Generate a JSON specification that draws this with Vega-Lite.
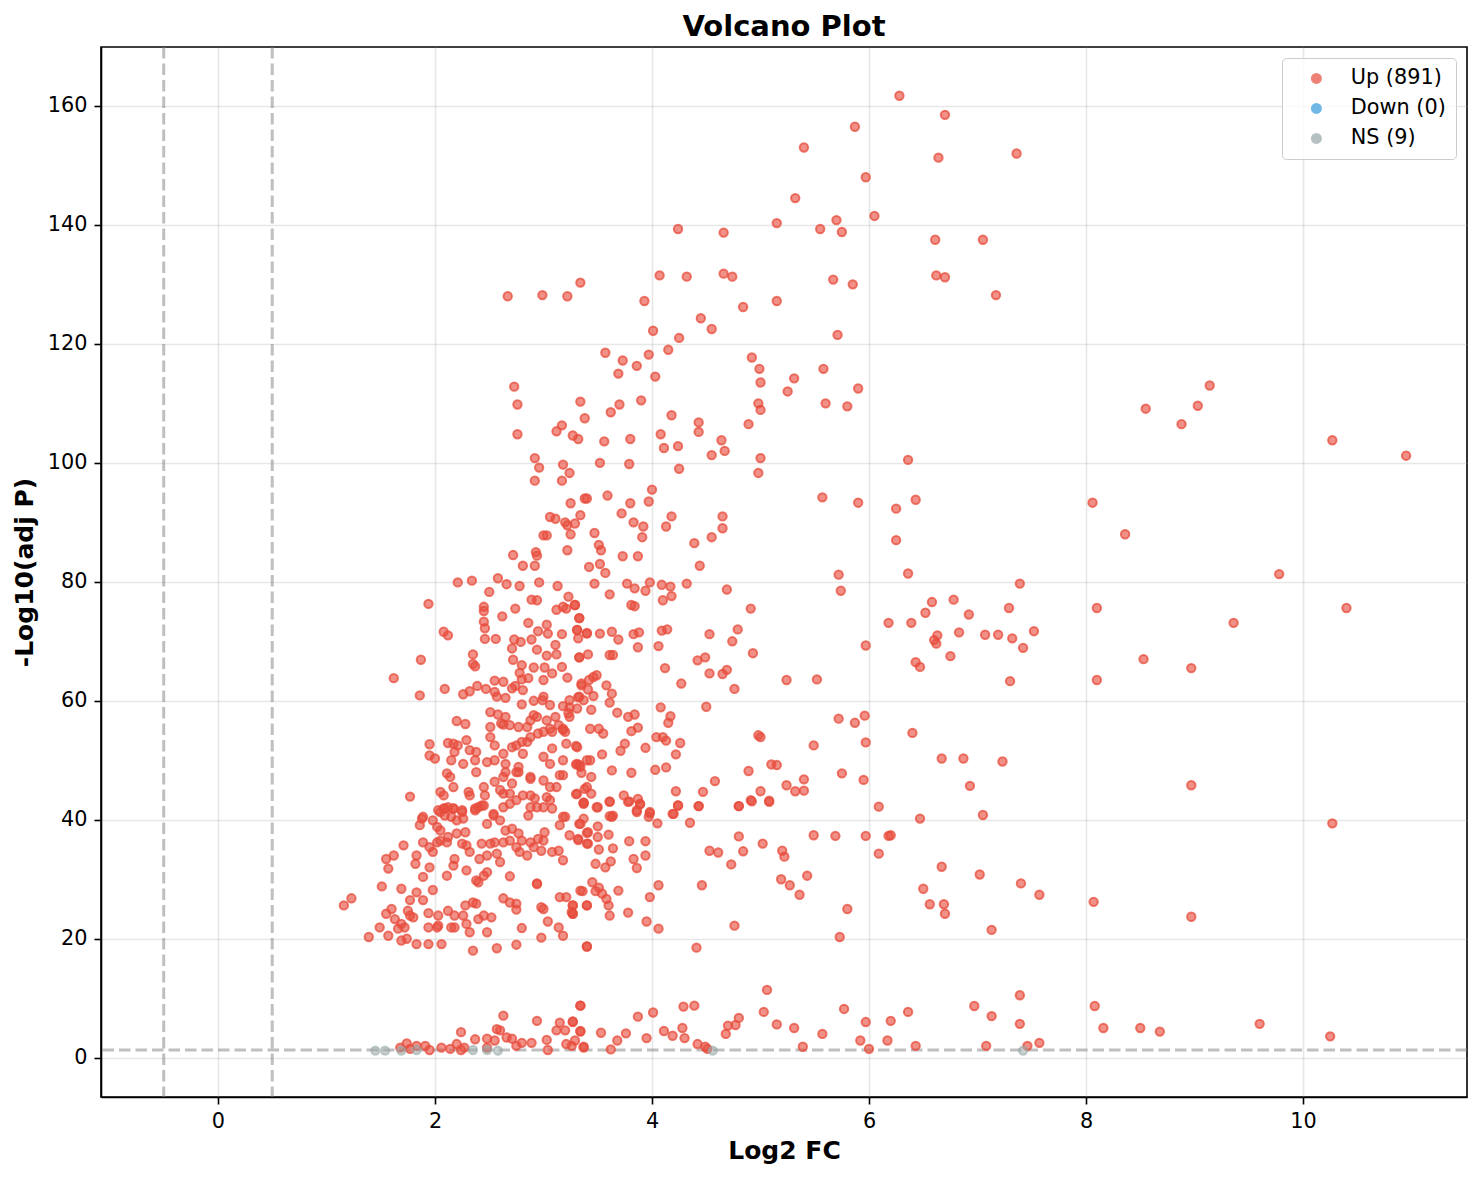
{
  "$schema": "https://vega.github.io/schema/vega-lite/v6.json",
  "autosize": {"type": "none"},
  "width": 1366,
  "height": 1050,
  "padding": {"left": 101, "top": 47, "right": 15, "bottom": 83},
  "background": "white",
  "title": {"text": "Volcano Plot", "fontSize": 29, "fontWeight": "bold", "color": "black", "offset": 4, "anchor": "middle"},
  "config": {
    "font": "DejaVu Sans",
    "view": {"stroke": "black", "strokeWidth": 1.6},
    "axis": {
      "domainColor": "black", "domainWidth": 1.6,
      "tickColor": "black", "tickWidth": 1.6, "tickSize": 7,
      "labelPadding": 7, "labelFontSize": 20.8, "labelColor": "black",
      "titleFontSize": 25, "titleFontWeight": "bold", "titleColor": "black",
      "grid": true, "gridColor": "#b0b0b0", "gridOpacity": 0.3, "gridWidth": 1.6
    },
    "legend": {
      "orient": "top-right", "offset": 11, "padding": 10,
      "fillColor": "rgba(255,255,255,0.8)", "strokeColor": "#cccccc", "cornerRadius": 4,
      "labelFontSize": 20.8, "labelColor": "black", "labelOffset": 24,
      "symbolSize": 120, "symbolType": "circle", "symbolOpacity": 0.7, "symbolStrokeWidth": 0,
      "symbolOffset": 14, "rowPadding": 8
    }
  },
  "datasets": {
    "thrx": [{"fc": -0.5}, {"fc": 0.5}],
    "thry": [{"p": 1.3}],
    "ns": [
      {"fc":1.45,"p":1.2},{"fc":1.54,"p":1.2},{"fc":1.69,"p":1.2},{"fc":1.83,"p":1.3},{"fc":2.35,"p":1.3},
      {"fc":2.48,"p":1.3},{"fc":2.58,"p":1.2},{"fc":4.56,"p":1.2},{"fc":7.42,"p":1.2}
    ],
    "up": [
      {"fc":6.28,"p":161.7},{"fc":6.7,"p":158.5},{"fc":5.87,"p":156.5},{"fc":5.4,"p":153},{"fc":7.36,"p":152},
      {"fc":6.64,"p":151.3},{"fc":5.97,"p":148},{"fc":5.32,"p":144.5},{"fc":6.05,"p":141.5},{"fc":5.15,"p":140.3},
      {"fc":5.7,"p":140.8},{"fc":5.55,"p":139.3},{"fc":5.75,"p":138.8},{"fc":4.24,"p":139.3},{"fc":4.66,"p":138.7},
      {"fc":6.61,"p":137.5},{"fc":7.05,"p":137.5},{"fc":4.07,"p":131.5},{"fc":4.32,"p":131.3},{"fc":4.66,"p":131.8},
      {"fc":4.74,"p":131.3},{"fc":5.67,"p":130.8},{"fc":5.85,"p":130},{"fc":6.62,"p":131.5},{"fc":6.7,"p":131.2},
      {"fc":3.34,"p":130.3},{"fc":2.67,"p":128},{"fc":2.99,"p":128.2},{"fc":3.22,"p":128},{"fc":7.17,"p":128.2},
      {"fc":3.93,"p":127.2},{"fc":5.15,"p":127.2},{"fc":4.84,"p":126.2},{"fc":4.45,"p":124.3},{"fc":4.55,"p":122.5},
      {"fc":4.01,"p":122.2},{"fc":5.71,"p":121.5},{"fc":4.25,"p":121},{"fc":4.15,"p":119},{"fc":3.57,"p":118.5},
      {"fc":3.97,"p":118.2},{"fc":4.92,"p":117.7},{"fc":3.73,"p":117.2},{"fc":3.86,"p":116.3},{"fc":5.58,"p":115.8},
      {"fc":4.99,"p":115.8},{"fc":3.69,"p":115},{"fc":4.03,"p":114.5},{"fc":5.31,"p":114.2},{"fc":5.0,"p":113.5},
      {"fc":9.14,"p":113},{"fc":2.73,"p":112.8},{"fc":5.25,"p":112},{"fc":5.9,"p":112.5},{"fc":3.34,"p":110.3},
      {"fc":3.9,"p":110.5},{"fc":3.7,"p":109.8},{"fc":2.76,"p":109.8},{"fc":4.98,"p":110},{"fc":5.6,"p":110},
      {"fc":5.0,"p":108.9},{"fc":5.8,"p":109.5},{"fc":9.03,"p":109.6},{"fc":8.55,"p":109.1},{"fc":3.38,"p":107.5},
      {"fc":3.62,"p":108.5},{"fc":4.18,"p":108},{"fc":8.88,"p":106.5},{"fc":4.89,"p":106.5},{"fc":3.17,"p":106.3},
      {"fc":4.43,"p":106.8},{"fc":3.12,"p":105.3},{"fc":4.43,"p":105.2},{"fc":2.76,"p":104.8},{"fc":3.27,"p":104.6},
      {"fc":3.32,"p":104},{"fc":3.8,"p":104},{"fc":4.08,"p":104.8},{"fc":4.64,"p":103.8},{"fc":10.27,"p":103.8},
      {"fc":3.56,"p":103.6},{"fc":4.11,"p":102.5},{"fc":4.24,"p":102.8},{"fc":4.67,"p":102},{"fc":4.55,"p":101.3},
      {"fc":2.92,"p":100.8},{"fc":3.18,"p":99.7},{"fc":3.79,"p":99.8},{"fc":3.52,"p":100},{"fc":5.0,"p":100.8},
      {"fc":6.36,"p":100.5},{"fc":10.95,"p":101.2},
      {"fc":2.96,"p":99.2},{"fc":4.25,"p":99},{"fc":3.24,"p":98.3},{"fc":4.98,"p":98.3},{"fc":2.92,"p":97},
      {"fc":3.17,"p":97},{"fc":4.0,"p":95.5},{"fc":3.59,"p":94.5},{"fc":5.57,"p":94.2},{"fc":6.43,"p":93.8},
      {"fc":3.38,"p":94},{"fc":3.4,"p":94},{"fc":3.97,"p":93.5},{"fc":3.8,"p":93.2},{"fc":5.9,"p":93.3},
      {"fc":8.06,"p":93.3},{"fc":3.25,"p":93.2},{"fc":6.25,"p":92.3},{"fc":3.34,"p":91.2},{"fc":3.72,"p":91.5},
      {"fc":4.18,"p":91},{"fc":4.65,"p":91},{"fc":3.06,"p":90.9},{"fc":3.11,"p":90.6},{"fc":3.2,"p":90},
      {"fc":3.22,"p":89.5},{"fc":3.29,"p":89.8},{"fc":3.83,"p":90},{"fc":3.92,"p":89.3},{"fc":4.13,"p":89.3},
      {"fc":4.65,"p":89},{"fc":3.91,"p":87.5},{"fc":3.0,"p":87.8},{"fc":3.03,"p":87.8},{"fc":3.25,"p":88},
      {"fc":3.47,"p":88.2},{"fc":4.55,"p":87.5},{"fc":4.39,"p":86.5},{"fc":8.36,"p":88},{"fc":6.25,"p":87},
      {"fc":3.51,"p":86.2},{"fc":3.53,"p":85.3},{"fc":2.93,"p":85},{"fc":2.94,"p":84.4},{"fc":3.22,"p":85.3},
      {"fc":3.73,"p":84.3},{"fc":3.87,"p":84.3},{"fc":2.72,"p":84.5},
      {"fc":5.72,"p":81.2},{"fc":6.36,"p":81.4},{"fc":9.78,"p":81.3},{"fc":7.39,"p":79.7},{"fc":5.74,"p":78.5},
      {"fc":6.58,"p":76.6},{"fc":6.78,"p":77},{"fc":6.52,"p":74.8},{"fc":6.92,"p":74.5},{"fc":7.29,"p":75.6},
      {"fc":8.1,"p":75.6},{"fc":10.4,"p":75.6},{"fc":6.18,"p":73.1},{"fc":6.39,"p":73.1},{"fc":6.63,"p":71},
      {"fc":6.83,"p":71.5},{"fc":7.07,"p":71.1},{"fc":7.19,"p":71.1},{"fc":7.32,"p":70.5},{"fc":7.52,"p":71.7},
      {"fc":9.36,"p":73.1},{"fc":6.6,"p":70.2},{"fc":6.62,"p":69.6},{"fc":7.42,"p":68.9},{"fc":5.97,"p":69.3},
      {"fc":6.43,"p":66.5},{"fc":6.47,"p":65.7},{"fc":6.75,"p":67.5},{"fc":8.53,"p":67},{"fc":8.97,"p":65.5},
      {"fc":7.3,"p":63.3},{"fc":8.1,"p":63.5},{"fc":5.96,"p":57.5},{"fc":5.72,"p":57},{"fc":6.4,"p":54.6},
      {"fc":5.75,"p":47.8},{"fc":5.97,"p":53},{"fc":5.87,"p":56.3},{"fc":5.95,"p":46.7},{"fc":5.69,"p":37.3},
      {"fc":5.97,"p":37.3},{"fc":6.2,"p":37.4},{"fc":6.18,"p":37.3},{"fc":6.09,"p":42.2},{"fc":6.09,"p":34.3},
      {"fc":6.47,"p":40.2},{"fc":6.67,"p":50.3},{"fc":6.87,"p":50.3},{"fc":6.93,"p":45.7},{"fc":7.23,"p":49.8},
      {"fc":7.05,"p":40.8},{"fc":6.67,"p":32.1},{"fc":6.5,"p":28.4},{"fc":6.56,"p":25.8},{"fc":6.69,"p":25.8},
      {"fc":6.7,"p":24.2},{"fc":7.02,"p":30.8},{"fc":7.4,"p":29.3},{"fc":7.57,"p":27.4},{"fc":7.13,"p":21.5},
      {"fc":5.8,"p":25},{"fc":5.73,"p":20.3},{"fc":8.07,"p":26.2},{"fc":8.97,"p":45.8},{"fc":8.97,"p":23.7},
      {"fc":10.27,"p":39.4},{"fc":5.77,"p":8.2},{"fc":5.97,"p":6.0},{"fc":6.36,"p":7.7},{"fc":6.2,"p":6.2},
      {"fc":5.92,"p":2.9},{"fc":6.0,"p":1.5},{"fc":6.17,"p":2.9},{"fc":6.43,"p":2.0},{"fc":6.97,"p":8.7},
      {"fc":7.13,"p":7.0},{"fc":7.39,"p":10.5},{"fc":7.39,"p":5.7},{"fc":7.08,"p":2.0},{"fc":7.46,"p":2.0},
      {"fc":7.57,"p":2.5},{"fc":8.08,"p":8.7},{"fc":8.16,"p":5.0},{"fc":8.5,"p":5.0},{"fc":8.68,"p":4.4},
      {"fc":9.6,"p":5.7},{"fc":10.25,"p":3.6},
      {"fc":2.81,"p":82.7},{"fc":2.92,"p":82.7},{"fc":2.21,"p":79.9},{"fc":2.34,"p":80.2},{"fc":2.58,"p":80.6},
      {"fc":2.66,"p":79.6},{"fc":2.78,"p":79.3},{"fc":2.96,"p":79.9},{"fc":3.13,"p":79.3},{"fc":2.5,"p":78.3},
      {"fc":1.94,"p":76.3},{"fc":2.45,"p":75.8},{"fc":2.45,"p":75.1},{"fc":2.62,"p":74.2},{"fc":2.74,"p":75.5},
      {"fc":2.89,"p":77.0},{"fc":2.94,"p":76.9},{"fc":3.23,"p":77.5},{"fc":3.18,"p":75.8},{"fc":3.21,"p":75.5},
      {"fc":3.29,"p":76.1},{"fc":3.12,"p":75.3},{"fc":3.33,"p":73.9},{"fc":2.45,"p":73.3},{"fc":2.46,"p":72.2},
      {"fc":2.86,"p":73.1},{"fc":3.03,"p":72.8},{"fc":2.95,"p":71.7},{"fc":3.04,"p":71.3},{"fc":3.17,"p":71.2},
      {"fc":3.31,"p":71.9},{"fc":3.4,"p":71.3},{"fc":3.32,"p":70.5},{"fc":2.08,"p":71.6},{"fc":2.12,"p":71.0},
      {"fc":2.46,"p":70.4},{"fc":2.56,"p":70.4},{"fc":2.73,"p":70.3},{"fc":2.79,"p":69.9},{"fc":2.89,"p":70.3},
      {"fc":2.71,"p":68.8},{"fc":2.94,"p":68.6},{"fc":3.11,"p":69.4},{"fc":3.03,"p":67.6},{"fc":3.12,"p":67.8},
      {"fc":3.33,"p":67.3},{"fc":3.17,"p":65.7},{"fc":1.87,"p":66.9},{"fc":2.35,"p":67.8},{"fc":2.35,"p":66.2},
      {"fc":2.37,"p":65.8},{"fc":2.72,"p":66.9},{"fc":2.8,"p":66.0},{"fc":2.91,"p":65.6},{"fc":3.01,"p":65.6},
      {"fc":2.78,"p":64.7},{"fc":2.86,"p":63.8},{"fc":2.8,"p":63.6},{"fc":3.0,"p":63.5},{"fc":3.08,"p":64.6},
      {"fc":3.22,"p":63.9},{"fc":3.35,"p":62.9},{"fc":3.42,"p":63.5},{"fc":1.62,"p":63.8},{"fc":1.86,"p":60.9},
      {"fc":2.09,"p":62.0},{"fc":2.26,"p":61.1},{"fc":2.32,"p":61.6},{"fc":2.39,"p":62.5},{"fc":2.47,"p":62.0},
      {"fc":2.55,"p":63.4},{"fc":2.55,"p":61.5},{"fc":2.63,"p":63.2},{"fc":2.57,"p":60.7},{"fc":2.65,"p":60.5},
      {"fc":2.71,"p":62.1},{"fc":2.74,"p":62.5},{"fc":2.81,"p":61.8},{"fc":2.8,"p":59.4},{"fc":2.91,"p":60.0},
      {"fc":3.0,"p":60.7},{"fc":3.32,"p":60.6},{"fc":3.24,"p":60.1},
      {"fc":2.2,"p":56.6},{"fc":2.28,"p":56.1},{"fc":2.51,"p":58.1},{"fc":2.58,"p":57.7},{"fc":2.65,"p":57.3},
      {"fc":2.51,"p":55.6},{"fc":2.61,"p":56.2},{"fc":2.63,"p":56.0},{"fc":2.69,"p":55.9},{"fc":2.77,"p":55.6},
      {"fc":2.85,"p":55.6},{"fc":2.88,"p":56.7},{"fc":2.91,"p":57.6},{"fc":2.94,"p":57.3},{"fc":2.99,"p":60.1},
      {"fc":3.06,"p":59.3},{"fc":3.18,"p":59.1},{"fc":3.23,"p":57.9},{"fc":3.24,"p":57.3},{"fc":3.31,"p":58.7},
      {"fc":3.37,"p":60.1},{"fc":3.03,"p":56.7},{"fc":3.11,"p":57.3},{"fc":3.06,"p":55.3},{"fc":3.18,"p":55.3},
      {"fc":3.2,"p":54.8},{"fc":3.21,"p":52.8},{"fc":3.31,"p":52.2},{"fc":1.95,"p":52.7},{"fc":1.95,"p":50.8},
      {"fc":2.0,"p":50.3},{"fc":2.12,"p":52.9},{"fc":2.17,"p":52.8},{"fc":2.21,"p":52.5},{"fc":2.29,"p":53.4},
      {"fc":2.32,"p":51.7},{"fc":2.18,"p":51.4},{"fc":2.38,"p":51.4},{"fc":2.51,"p":53.9},{"fc":2.55,"p":52.5},
      {"fc":2.63,"p":51.1},{"fc":2.75,"p":52.5},{"fc":2.8,"p":53.1},{"fc":2.85,"p":53.1},{"fc":2.88,"p":53.9},
      {"fc":2.95,"p":54.5},{"fc":3.0,"p":54.8},{"fc":3.08,"p":54.8},{"fc":3.08,"p":52.0},{"fc":3.14,"p":55.9},
      {"fc":3.18,"p":55.1},{"fc":2.71,"p":52.2},{"fc":2.81,"p":51.1},{"fc":3.0,"p":50.6},{"fc":3.06,"p":49.4},
      {"fc":3.18,"p":50.0},{"fc":3.31,"p":49.4},{"fc":3.34,"p":48.9},{"fc":3.4,"p":50.0},{"fc":2.15,"p":50.0},
      {"fc":2.26,"p":49.4},{"fc":2.37,"p":50.0},{"fc":2.48,"p":49.7},{"fc":2.55,"p":50.0},{"fc":2.65,"p":49.4},
      {"fc":2.77,"p":48.9},{"fc":2.77,"p":48.0},{"fc":2.88,"p":47.2},{"fc":3.0,"p":46.6},{"fc":3.15,"p":47.5},
      {"fc":2.11,"p":47.8},{"fc":2.14,"p":47.2},{"fc":2.17,"p":45.5},{"fc":2.38,"p":48.0},{"fc":2.55,"p":46.4},
      {"fc":2.63,"p":47.2},{"fc":2.65,"p":48.0},{"fc":2.71,"p":46.1},{"fc":2.75,"p":48.0},{"fc":2.88,"p":46.9},
      {"fc":3.06,"p":45.5},{"fc":3.12,"p":45.5},{"fc":3.18,"p":47.5},{"fc":2.05,"p":44.7},{"fc":2.08,"p":44.1},
      {"fc":2.31,"p":44.7},{"fc":2.32,"p":44.1},{"fc":2.45,"p":45.5},{"fc":2.46,"p":44.1},{"fc":2.6,"p":45.0},
      {"fc":2.63,"p":44.4},{"fc":2.69,"p":44.4},{"fc":2.75,"p":43.3},{"fc":2.81,"p":44.1},{"fc":2.88,"p":44.1},
      {"fc":2.92,"p":43.6},{"fc":2.94,"p":42.1},{"fc":3.03,"p":43.8},{"fc":3.06,"p":43.3},{"fc":3.18,"p":40.5},
      {"fc":3.31,"p":44.4},{"fc":3.37,"p":42.7},{"fc":3.4,"p":45.5},{"fc":1.77,"p":43.9},{"fc":2.03,"p":41.6},
      {"fc":2.08,"p":41.9},{"fc":2.12,"p":42.1},{"fc":2.17,"p":41.9},{"fc":2.25,"p":41.6},{"fc":2.37,"p":41.9},
      {"fc":2.4,"p":42.1},{"fc":2.45,"p":42.4},{"fc":2.54,"p":41.0},{"fc":2.63,"p":42.1},{"fc":2.69,"p":42.7},
      {"fc":2.88,"p":42.1},{"fc":3.0,"p":42.1},{"fc":3.08,"p":41.9},{"fc":1.88,"p":40.2},{"fc":3.37,"p":40.2},
      {"fc":2.86,"p":40.7},
      {"fc":2.09,"p":41.9},{"fc":2.17,"p":41.9},{"fc":2.25,"p":41.3},{"fc":2.37,"p":41.6},{"fc":2.43,"p":42.4},
      {"fc":1.89,"p":40.5},{"fc":1.98,"p":39.9},{"fc":2.05,"p":41.3},{"fc":2.09,"p":40.7},{"fc":2.15,"p":40.5},
      {"fc":2.2,"p":39.9},{"fc":2.26,"p":40.2},{"fc":1.86,"p":39.1},{"fc":2.02,"p":38.8},{"fc":2.05,"p":38.2},
      {"fc":2.12,"p":37.1},{"fc":2.2,"p":37.7},{"fc":2.28,"p":37.9},{"fc":2.25,"p":36.0},{"fc":2.29,"p":35.7},
      {"fc":2.48,"p":39.3},{"fc":2.54,"p":40.7},{"fc":2.6,"p":39.9},{"fc":2.65,"p":38.2},{"fc":2.71,"p":38.5},
      {"fc":2.77,"p":37.7},{"fc":2.8,"p":36.5},{"fc":2.88,"p":36.2},{"fc":2.91,"p":35.4},{"fc":2.95,"p":36.8},
      {"fc":3.0,"p":36.5},{"fc":3.01,"p":37.9},{"fc":2.98,"p":34.8},{"fc":3.08,"p":34.6},{"fc":3.14,"p":34.8},
      {"fc":3.18,"p":33.2},{"fc":3.15,"p":39.1},{"fc":3.2,"p":40.5},{"fc":3.24,"p":37.4},{"fc":3.32,"p":36.8},
      {"fc":3.34,"p":39.3},{"fc":3.4,"p":36.0},{"fc":3.41,"p":37.9},{"fc":2.43,"p":36.0},{"fc":2.51,"p":36.0},
      {"fc":2.55,"p":36.2},{"fc":2.63,"p":36.2},{"fc":2.69,"p":36.5},{"fc":2.75,"p":35.4},{"fc":2.78,"p":34.6},
      {"fc":2.85,"p":34.0},{"fc":2.32,"p":34.6},{"fc":2.41,"p":33.4},{"fc":2.48,"p":34.0},{"fc":2.57,"p":34.3},
      {"fc":2.6,"p":32.9},{"fc":1.71,"p":35.7},{"fc":1.62,"p":34.0},{"fc":1.55,"p":33.4},{"fc":1.57,"p":31.8},
      {"fc":1.83,"p":34.0},{"fc":1.82,"p":32.6},{"fc":1.89,"p":36.2},{"fc":1.95,"p":35.4},{"fc":1.95,"p":32.0},
      {"fc":1.98,"p":34.6},{"fc":2.02,"p":36.2},{"fc":2.05,"p":36.5},{"fc":2.11,"p":36.2},{"fc":2.17,"p":32.3},
      {"fc":2.18,"p":33.4},{"fc":2.11,"p":30.6},{"fc":2.29,"p":31.5},{"fc":2.38,"p":29.8},{"fc":2.4,"p":29.5},
      {"fc":2.45,"p":30.6},{"fc":2.48,"p":31.2},{"fc":2.69,"p":30.5},{"fc":2.94,"p":29.2},{"fc":1.89,"p":30.4},
      {"fc":1.51,"p":28.8},{"fc":1.69,"p":28.4},{"fc":1.83,"p":27.8},{"fc":1.98,"p":28.2},{"fc":1.77,"p":26.5},
      {"fc":1.89,"p":26.5},{"fc":1.16,"p":25.6},{"fc":1.23,"p":26.8},{"fc":1.55,"p":24.2},{"fc":1.6,"p":25.0},
      {"fc":1.49,"p":21.9},{"fc":1.39,"p":20.3},{"fc":1.57,"p":20.5},{"fc":1.63,"p":23.3},{"fc":1.66,"p":21.7},
      {"fc":1.69,"p":22.5},{"fc":1.72,"p":21.9},{"fc":1.77,"p":23.9},{"fc":1.75,"p":24.7},{"fc":1.8,"p":23.6},
      {"fc":1.69,"p":19.7},{"fc":1.74,"p":20.0},{"fc":1.83,"p":19.1},{"fc":1.94,"p":19.1},{"fc":2.06,"p":19.1},
      {"fc":1.94,"p":24.3},{"fc":2.03,"p":23.9},{"fc":2.02,"p":21.9},{"fc":2.03,"p":22.2},{"fc":1.94,"p":21.9},
      {"fc":2.12,"p":24.7},{"fc":2.18,"p":23.9},{"fc":2.15,"p":21.9},{"fc":2.18,"p":21.9},{"fc":2.26,"p":23.9},
      {"fc":2.29,"p":22.5},{"fc":2.32,"p":21.1},{"fc":2.28,"p":25.6},{"fc":2.35,"p":26.1},{"fc":2.38,"p":25.9},
      {"fc":2.4,"p":23.3},{"fc":2.45,"p":23.9},{"fc":2.52,"p":23.6},{"fc":2.48,"p":21.1},{"fc":2.35,"p":18.0},
      {"fc":2.57,"p":18.4},{"fc":2.63,"p":26.8},{"fc":2.69,"p":26.1},{"fc":2.75,"p":25.9},{"fc":2.75,"p":24.9},
      {"fc":2.8,"p":21.8},{"fc":2.75,"p":19.0},{"fc":2.94,"p":29.3},{"fc":2.98,"p":25.3},{"fc":3.0,"p":25.0},
      {"fc":3.04,"p":22.9},{"fc":2.98,"p":20.2},{"fc":3.15,"p":27.0},{"fc":3.21,"p":27.0},{"fc":3.27,"p":25.6},
      {"fc":3.26,"p":24.5},{"fc":3.27,"p":24.2},{"fc":3.14,"p":21.9},{"fc":3.18,"p":20.5},{"fc":3.34,"p":28.1},
      {"fc":3.4,"p":25.6},{"fc":3.4,"p":18.7},
      {"fc":3.34,"p":8.75},{"fc":2.63,"p":7.07},{"fc":2.94,"p":6.2},{"fc":3.15,"p":5.9},{"fc":3.27,"p":6.0},
      {"fc":2.57,"p":4.8},{"fc":2.6,"p":4.6},{"fc":2.24,"p":4.3},{"fc":3.12,"p":4.6},{"fc":3.2,"p":4.6},
      {"fc":3.34,"p":4.5},{"fc":2.37,"p":3.1},{"fc":2.48,"p":3.2},{"fc":2.55,"p":2.9},{"fc":2.66,"p":3.4},
      {"fc":2.71,"p":3.2},{"fc":2.8,"p":2.5},{"fc":2.89,"p":2.5},{"fc":3.03,"p":3.0},{"fc":2.2,"p":2.3},
      {"fc":1.74,"p":2.4},{"fc":1.83,"p":2.0},{"fc":1.91,"p":2.0},{"fc":2.06,"p":1.7},{"fc":1.68,"p":1.7},
      {"fc":2.14,"p":1.5},{"fc":2.27,"p":1.7},{"fc":2.48,"p":1.7},{"fc":2.75,"p":2.0},{"fc":3.21,"p":2.3},
      {"fc":3.26,"p":2.0},{"fc":3.04,"p":1.3},{"fc":1.95,"p":1.3},{"fc":3.37,"p":1.7},{"fc":1.77,"p":1.5},
      {"fc":2.24,"p":1.3},
      {"fc":3.42,"p":82.5},{"fc":3.52,"p":83.0},{"fc":3.57,"p":81.5},{"fc":3.47,"p":79.7},{"fc":3.61,"p":77.9},
      {"fc":3.77,"p":79.7},{"fc":3.84,"p":78.9},{"fc":3.94,"p":78.5},{"fc":3.98,"p":79.9},{"fc":4.09,"p":79.5},
      {"fc":4.17,"p":79.2},{"fc":4.18,"p":77.6},{"fc":4.1,"p":76.9},{"fc":4.32,"p":79.7},{"fc":4.44,"p":82.7},
      {"fc":4.69,"p":78.7},{"fc":4.91,"p":75.5},{"fc":3.81,"p":76.1},{"fc":3.84,"p":75.9},{"fc":3.29,"p":76.1},
      {"fc":3.33,"p":73.9},{"fc":3.31,"p":71.9},{"fc":3.4,"p":71.4},{"fc":3.52,"p":71.3},{"fc":3.63,"p":71.6},
      {"fc":3.69,"p":70.3},{"fc":3.83,"p":71.2},{"fc":3.88,"p":71.5},{"fc":3.87,"p":69.0},{"fc":4.06,"p":69.2},
      {"fc":4.09,"p":71.8},{"fc":4.14,"p":72.0},{"fc":4.53,"p":71.2},{"fc":4.79,"p":72.0},{"fc":4.74,"p":70.0},
      {"fc":4.93,"p":68.0},{"fc":4.42,"p":66.8},{"fc":4.49,"p":67.3},{"fc":4.53,"p":64.6},{"fc":4.65,"p":64.5},
      {"fc":4.69,"p":65.2},{"fc":4.12,"p":65.5},{"fc":4.27,"p":62.9},{"fc":4.76,"p":62.0},{"fc":5.24,"p":63.5},
      {"fc":5.52,"p":63.6},{"fc":3.41,"p":67.8},{"fc":3.61,"p":67.7},{"fc":3.64,"p":67.7},{"fc":3.33,"p":67.3},
      {"fc":3.46,"p":64.0},{"fc":3.49,"p":64.3},{"fc":3.58,"p":62.6},{"fc":3.35,"p":62.6},{"fc":3.41,"p":61.9},
      {"fc":3.63,"p":61.2},{"fc":3.61,"p":59.7},{"fc":3.33,"p":60.7},{"fc":3.46,"p":60.8},{"fc":3.24,"p":58.9},
      {"fc":3.44,"p":58.5},{"fc":3.68,"p":58.0},{"fc":3.78,"p":57.3},{"fc":3.84,"p":57.7},{"fc":4.08,"p":58.9},
      {"fc":4.17,"p":57.4},{"fc":4.15,"p":56.3},{"fc":4.5,"p":59.0},{"fc":3.43,"p":55.3},{"fc":3.51,"p":55.3},
      {"fc":3.55,"p":54.5},{"fc":3.81,"p":54.9},{"fc":3.87,"p":55.5},{"fc":4.04,"p":53.9},{"fc":4.1,"p":53.9},
      {"fc":4.13,"p":53.3},{"fc":4.26,"p":52.9},{"fc":4.98,"p":54.2},{"fc":5.0,"p":53.9},{"fc":5.49,"p":52.5},
      {"fc":3.3,"p":52.4},{"fc":3.75,"p":52.8},{"fc":3.71,"p":51.6},{"fc":3.94,"p":52.1},{"fc":4.22,"p":51.0},
      {"fc":3.54,"p":51.0},{"fc":3.43,"p":50.0},{"fc":3.3,"p":49.3},{"fc":3.33,"p":49.2},{"fc":3.35,"p":47.9},
      {"fc":3.44,"p":47.2},{"fc":3.63,"p":48.3},{"fc":3.81,"p":47.9},{"fc":4.03,"p":48.4},{"fc":4.13,"p":48.8},
      {"fc":4.89,"p":48.2},{"fc":5.1,"p":49.3},{"fc":5.15,"p":49.2},{"fc":4.58,"p":46.5},{"fc":5.24,"p":45.8},
      {"fc":5.4,"p":46.8},{"fc":5.32,"p":44.8},{"fc":5.4,"p":44.9},{"fc":4.22,"p":44.8},{"fc":4.47,"p":44.7},
      {"fc":5.0,"p":44.8},{"fc":4.91,"p":43.3},{"fc":5.08,"p":43.2},{"fc":3.3,"p":44.3},{"fc":3.38,"p":45.2},
      {"fc":3.44,"p":44.4},{"fc":3.37,"p":42.9},{"fc":3.49,"p":42.1},{"fc":3.61,"p":43.1},{"fc":3.74,"p":44.1},
      {"fc":3.79,"p":43.1},{"fc":3.87,"p":43.5},{"fc":3.89,"p":42.7},{"fc":4.24,"p":42.4},{"fc":4.43,"p":42.3},
      {"fc":4.8,"p":42.3},{"fc":3.98,"p":41.3},{"fc":3.61,"p":40.6},{"fc":3.86,"p":41.6},{"fc":4.2,"p":41.0},
      {"fc":3.37,"p":42.8},{"fc":3.5,"p":42.1},{"fc":3.61,"p":43.0},{"fc":3.78,"p":43.0},{"fc":3.89,"p":42.6},
      {"fc":3.86,"p":41.3},{"fc":3.98,"p":41.1},{"fc":3.97,"p":40.5},{"fc":3.64,"p":40.7},{"fc":3.63,"p":40.5},
      {"fc":4.05,"p":39.4},{"fc":4.19,"p":41.0},{"fc":4.24,"p":42.4},{"fc":4.43,"p":42.3},{"fc":4.35,"p":39.5},
      {"fc":4.8,"p":42.3},{"fc":4.92,"p":43.1},{"fc":5.08,"p":43.0},{"fc":3.33,"p":39.3},{"fc":3.5,"p":38.9},
      {"fc":3.4,"p":37.8},{"fc":3.32,"p":36.6},{"fc":3.41,"p":36.0},{"fc":3.5,"p":37.1},{"fc":3.6,"p":37.5},
      {"fc":3.51,"p":35.0},{"fc":3.64,"p":35.2},{"fc":3.79,"p":36.4},{"fc":3.94,"p":36.4},{"fc":3.83,"p":33.4},
      {"fc":3.94,"p":34.0},{"fc":3.86,"p":31.9},{"fc":3.48,"p":32.6},{"fc":3.57,"p":32.0},{"fc":3.62,"p":33.0},
      {"fc":4.53,"p":34.8},{"fc":4.61,"p":34.5},{"fc":4.8,"p":37.2},{"fc":4.84,"p":34.7},{"fc":4.73,"p":32.5},
      {"fc":5.02,"p":36.0},{"fc":5.2,"p":34.8},{"fc":5.22,"p":33.8},{"fc":5.49,"p":37.4},{"fc":5.19,"p":30.0},
      {"fc":5.27,"p":29.0},{"fc":5.43,"p":30.6},{"fc":5.36,"p":27.4},{"fc":4.46,"p":29.0},{"fc":4.06,"p":29.0},
      {"fc":3.98,"p":27.0},{"fc":3.45,"p":29.5},{"fc":3.48,"p":28.0},{"fc":3.51,"p":28.6},{"fc":3.54,"p":27.6},
      {"fc":3.58,"p":26.7},{"fc":3.6,"p":25.6},{"fc":3.61,"p":23.9},{"fc":3.69,"p":28.1},{"fc":3.78,"p":24.4},
      {"fc":3.36,"p":28.0},{"fc":3.4,"p":25.6},{"fc":3.27,"p":25.6},{"fc":3.27,"p":24.2},{"fc":3.95,"p":22.9},
      {"fc":4.06,"p":21.7},{"fc":4.76,"p":22.2},{"fc":3.4,"p":18.7},{"fc":4.41,"p":18.5},{"fc":5.06,"p":11.4},
      {"fc":3.34,"p":8.75},{"fc":3.87,"p":6.9},{"fc":4.01,"p":7.6},{"fc":4.29,"p":8.6},{"fc":4.39,"p":8.75},
      {"fc":5.03,"p":7.7},{"fc":5.15,"p":5.6},{"fc":5.31,"p":5.0},{"fc":5.57,"p":4.0},{"fc":3.27,"p":6.1},
      {"fc":3.34,"p":4.4},{"fc":3.29,"p":2.9},{"fc":3.37,"p":1.85},{"fc":3.53,"p":4.2},{"fc":3.76,"p":4.1},
      {"fc":3.68,"p":2.9},{"fc":3.95,"p":3.3},{"fc":4.11,"p":4.5},{"fc":4.19,"p":3.7},{"fc":4.28,"p":5.0},
      {"fc":4.3,"p":3.3},{"fc":4.68,"p":4.0},{"fc":4.7,"p":5.4},{"fc":4.77,"p":5.5},{"fc":4.8,"p":6.7},
      {"fc":4.42,"p":2.3},{"fc":4.49,"p":1.85},{"fc":4.51,"p":1.5},{"fc":3.62,"p":1.4},{"fc":5.39,"p":1.85}
    ]
  },
  "layer": [
    {
      "data": {"name": "thrx"},
      "mark": {"type": "rule", "color": "#808080", "opacity": 0.5, "strokeWidth": 3, "strokeDash": [11.5, 5]},
      "encoding": {"x": {"field": "fc", "type": "quantitative"}}
    },
    {
      "data": {"name": "thry"},
      "mark": {"type": "rule", "color": "#808080", "opacity": 0.5, "strokeWidth": 3, "strokeDash": [11.5, 5]},
      "encoding": {"y": {"field": "p", "type": "quantitative"}}
    },
    {
      "data": {"name": "up"},
      "mark": {"type": "circle", "size": 70, "opacity": 1, "fillOpacity": 0.62, "stroke": "#e74c3c", "strokeOpacity": 0.75, "strokeWidth": 2},
      "encoding": {
        "x": {"field": "fc", "type": "quantitative", "title": "Log2 FC",
              "scale": {"domain": [-1.078, 11.511], "nice": false, "zero": false},
              "axis": {"values": [0, 2, 4, 6, 8, 10], "format": "d", "titlePadding": 8}},
        "y": {"field": "p", "type": "quantitative", "title": "-Log10(adj P)",
              "scale": {"domain": [-6.6, 169.9], "nice": false, "zero": false},
              "axis": {"values": [0, 20, 40, 60, 80, 100, 120, 140, 160], "format": "d", "titlePadding": 10}},
        "color": {"datum": "Up (891)", "type": "nominal",
                  "scale": {"domain": ["Up (891)", "Down (0)", "NS (9)"], "range": ["#e74c3c", "#3498db", "#95a5a6"]},
                  "legend": {"title": null}}
      }
    },
    {
      "data": {"name": "ns"},
      "mark": {"type": "circle", "size": 70, "opacity": 1, "fillOpacity": 0.5, "stroke": "#95a5a6", "strokeOpacity": 0.55, "strokeWidth": 2},
      "encoding": {
        "x": {"field": "fc", "type": "quantitative"},
        "y": {"field": "p", "type": "quantitative"},
        "color": {"datum": "NS (9)", "type": "nominal"}
      }
    }
  ]
}
